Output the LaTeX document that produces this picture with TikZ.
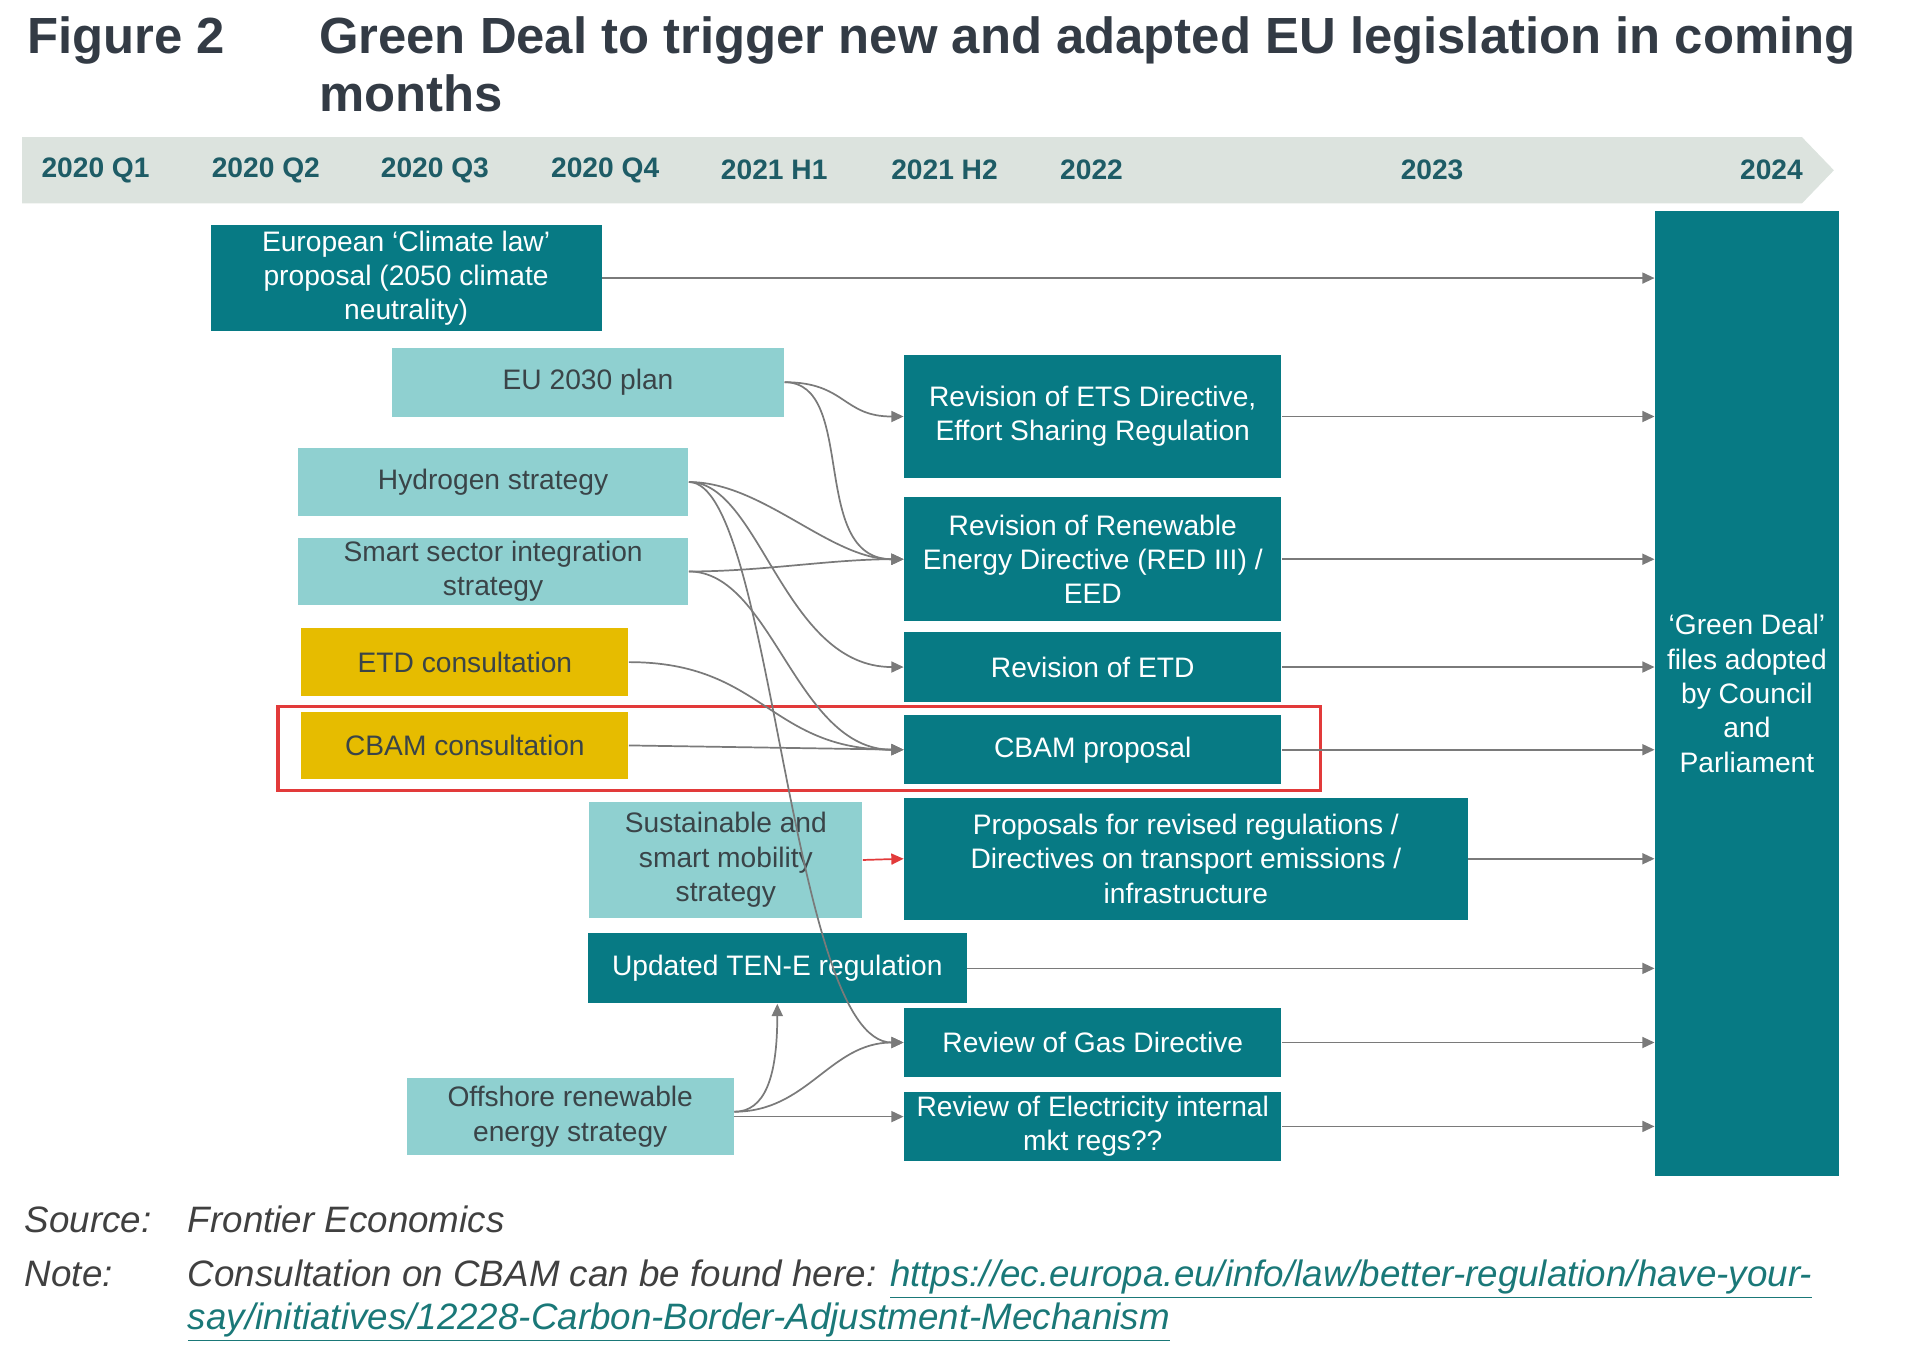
\documentclass[tikz,border=0pt]{standalone}
\usepackage{fontspec}
\setmainfont{Liberation Sans}
\usetikzlibrary{arrows.meta,calc}
\definecolor{dteal}{HTML}{077A84}
\definecolor{lteal}{HTML}{8FD0D0}
\definecolor{ylw}{HTML}{E6BC00}
\definecolor{bandcol}{HTML}{DCE3DE}
\definecolor{yeartxt}{HTML}{1E5C66}
\definecolor{titletxt}{HTML}{333B45}
\definecolor{darktxt}{HTML}{3A4448}
\definecolor{conncol}{HTML}{7A7A7A}
\definecolor{redcol}{HTML}{E23A3A}
\definecolor{foottxt}{HTML}{404040}
\definecolor{linkcol}{HTML}{1A7878}
\newcommand{\mybox}[7]{\node[#6,minimum width={(#4-#2)*0.5pt},minimum height={(#5-#3)*0.5pt}] (#1) at ({(#2+#4)/2},{(#3+#5)/2}) {#7};}
\begin{document}
\begin{tikzpicture}[x=0.5pt,y=-0.5pt,
  boxfont/.style={font=\fontsize{11.5}{14}\selectfont},
  darkbox/.style={fill=dteal,text=white,inner sep=0pt,align=center,boxfont},
  lightbox/.style={fill=lteal,text=darktxt,inner sep=0pt,align=center,boxfont},
  yellowbox/.style={fill=ylw,text=darktxt,inner sep=0pt,align=center,boxfont},
  connarrow/.style={draw=conncol,line width=0.7pt,-{Triangle[length=5pt,width=4.5pt]}},
  redarrow/.style={draw=redcol,line width=0.7pt,-{Triangle[length=5pt,width=4.5pt]}},
  yearlbl/.style={text=yeartxt,font=\bfseries\fontsize{11.5}{14}\selectfont},
  titlefont/.style={text=titletxt,font=\bfseries\fontsize{20.75}{24}\selectfont,anchor=base west,inner sep=0pt},
  footfont/.style={text=foottxt,font=\itshape\fontsize{15}{18}\selectfont,anchor=base west,inner sep=0pt}]
\useasboundingbox (0,0) rectangle (1567.3,1114.25);

% title
\node[titlefont] (fig) at (22,44) {Figure 2};
\node[titlefont] (title1) at (260,44) {Green Deal to trigger new and adapted EU legislation in coming};
\node[titlefont] (title2) at (260,91) {months};

% timeline band
\fill[bandcol] (18,112) -- (1471,112) -- (1497,139) -- (1471,166) -- (18,166) -- cycle;
\node[yearlbl] (y1) at (78,139) {2020 Q1};
\node[yearlbl] (y2) at (217,139) {2020 Q2};
\node[yearlbl] (y3) at (355,139) {2020 Q3};
\node[yearlbl] (y4) at (494,139) {2020 Q4};
\node[yearlbl] (y5) at (632,139) {2021 H1};
\node[yearlbl] (y6) at (771,139) {2021 H2};
\node[yearlbl] (y7) at (891,139) {2022};
\node[yearlbl] (y8) at (1169,139) {2023};
\node[yearlbl] (y9) at (1446,139) {2024};

% boxes
\mybox{green}{1351}{172}{1501}{960}{darkbox}{‘Green Deal’\\files adopted\\by Council\\and\\Parliament}
\mybox{climate}{172}{184}{491}{270}{darkbox}{European ‘Climate law’\\proposal (2050 climate\\neutrality)}
\mybox{eu}{320}{284}{640}{340}{lightbox}{EU 2030 plan}
\mybox{ets}{738}{290}{1046}{390}{darkbox}{Revision of ETS Directive,\\Effort Sharing Regulation}
\mybox{hyd}{243}{366}{562}{421}{lightbox}{Hydrogen strategy}
\mybox{smart}{243}{439}{562}{494}{lightbox}{Smart sector integration\\strategy}
\mybox{red}{738}{406}{1046}{507}{darkbox}{Revision of Renewable\\Energy Directive (RED III) /\\EED}
\mybox{etdc}{246}{513}{513}{568}{yellowbox}{ETD consultation}
\mybox{etdrev}{738}{516}{1046}{573}{darkbox}{Revision of ETD}
\mybox{cbamc}{246}{581}{513}{636}{yellowbox}{CBAM consultation}
\mybox{cbam}{738}{584}{1046}{640}{darkbox}{CBAM proposal}
\mybox{mob}{481}{655}{704}{749}{lightbox}{Sustainable and\\smart mobility\\strategy}
\mybox{prop}{738}{651}{1198}{751}{darkbox}{Proposals for revised regulations /\\Directives on transport emissions /\\infrastructure}
\mybox{ten}{480}{762}{789}{819}{darkbox}{Updated TEN-E regulation}
\mybox{gas}{738}{823}{1046}{879}{darkbox}{Review of Gas Directive}
\mybox{off}{332}{880}{599}{943}{lightbox}{Offshore renewable\\energy strategy}
\mybox{elec}{738}{891}{1046}{948}{darkbox}{Review of Electricity internal\\mkt regs??}

% highlight
\node[draw=redcol,line width=1.3pt,inner sep=0pt,minimum width={(1078-227)*0.5pt},minimum height={(645-577)*0.5pt}] (hl) at ({(227+1078)/2},{(577+645)/2}) {};

% arrows to the adoption box
\foreach \n in {climate,ets,red,etdrev,cbam,prop,ten,gas,elec}
  \draw[connarrow] (\n.east) -- (\n.east -| green.west);

% input connectors
\draw[connarrow] (eu.east) .. controls +(50,0) and +(-50,0) .. (ets.west);
\draw[connarrow] (eu.east) .. controls +(60,0) and +(-78,0) .. (red.west);
\draw[connarrow] (hyd.east) .. controls +(60,0) and +(-60,0) .. (red.west);
\draw[connarrow] (hyd.east) .. controls +(58,0) and +(-98,0) .. (etdrev.west);
\draw[connarrow] (hyd.east) .. controls +(68,0) and +(-93,0) .. (gas.west);
\draw[connarrow] (smart.east) .. controls +(60,0) and +(-60,0) .. (red.west);
\draw[connarrow] (smart.east) .. controls +(68,0) and +(-88,0) .. (cbam.west);
\draw[connarrow] (etdc.east) .. controls +(110,0) and +(-110,0) .. (cbam.west);
\draw[connarrow] (cbamc.east) -- (cbam.west);
\draw[redarrow] (mob.east) -- (prop.west);
\draw[connarrow] ([yshift=2pt]off.east) .. controls +(25,0) and +(0,60) .. (ten.south);
\draw[connarrow] ([yshift=2pt]off.east) .. controls +(60,0) and +(-60,0) .. (gas.west);
\draw[connarrow] (off.east) .. controls +(60,0) and +(-60,0) .. ([yshift=4pt]elec.west);

% footer
\node[footfont] (src) at (20,1006) {Source:};
\node[footfont] (srcv) at (153,1006) {Frontier Economics};
\node[footfont] (note) at (20,1050) {Note:};
\node[footfont] (notev) at (153,1050) {Consultation on CBAM can be found here: {\color{linkcol}\underline{https://ec.europa.eu/info/law/better-regulation/have-your-}}};
\node[footfont] (notev2) at (153,1085) {{\color{linkcol}\underline{say/initiatives/12228-Carbon-Border-Adjustment-Mechanism}}};
\end{tikzpicture}
\end{document}
